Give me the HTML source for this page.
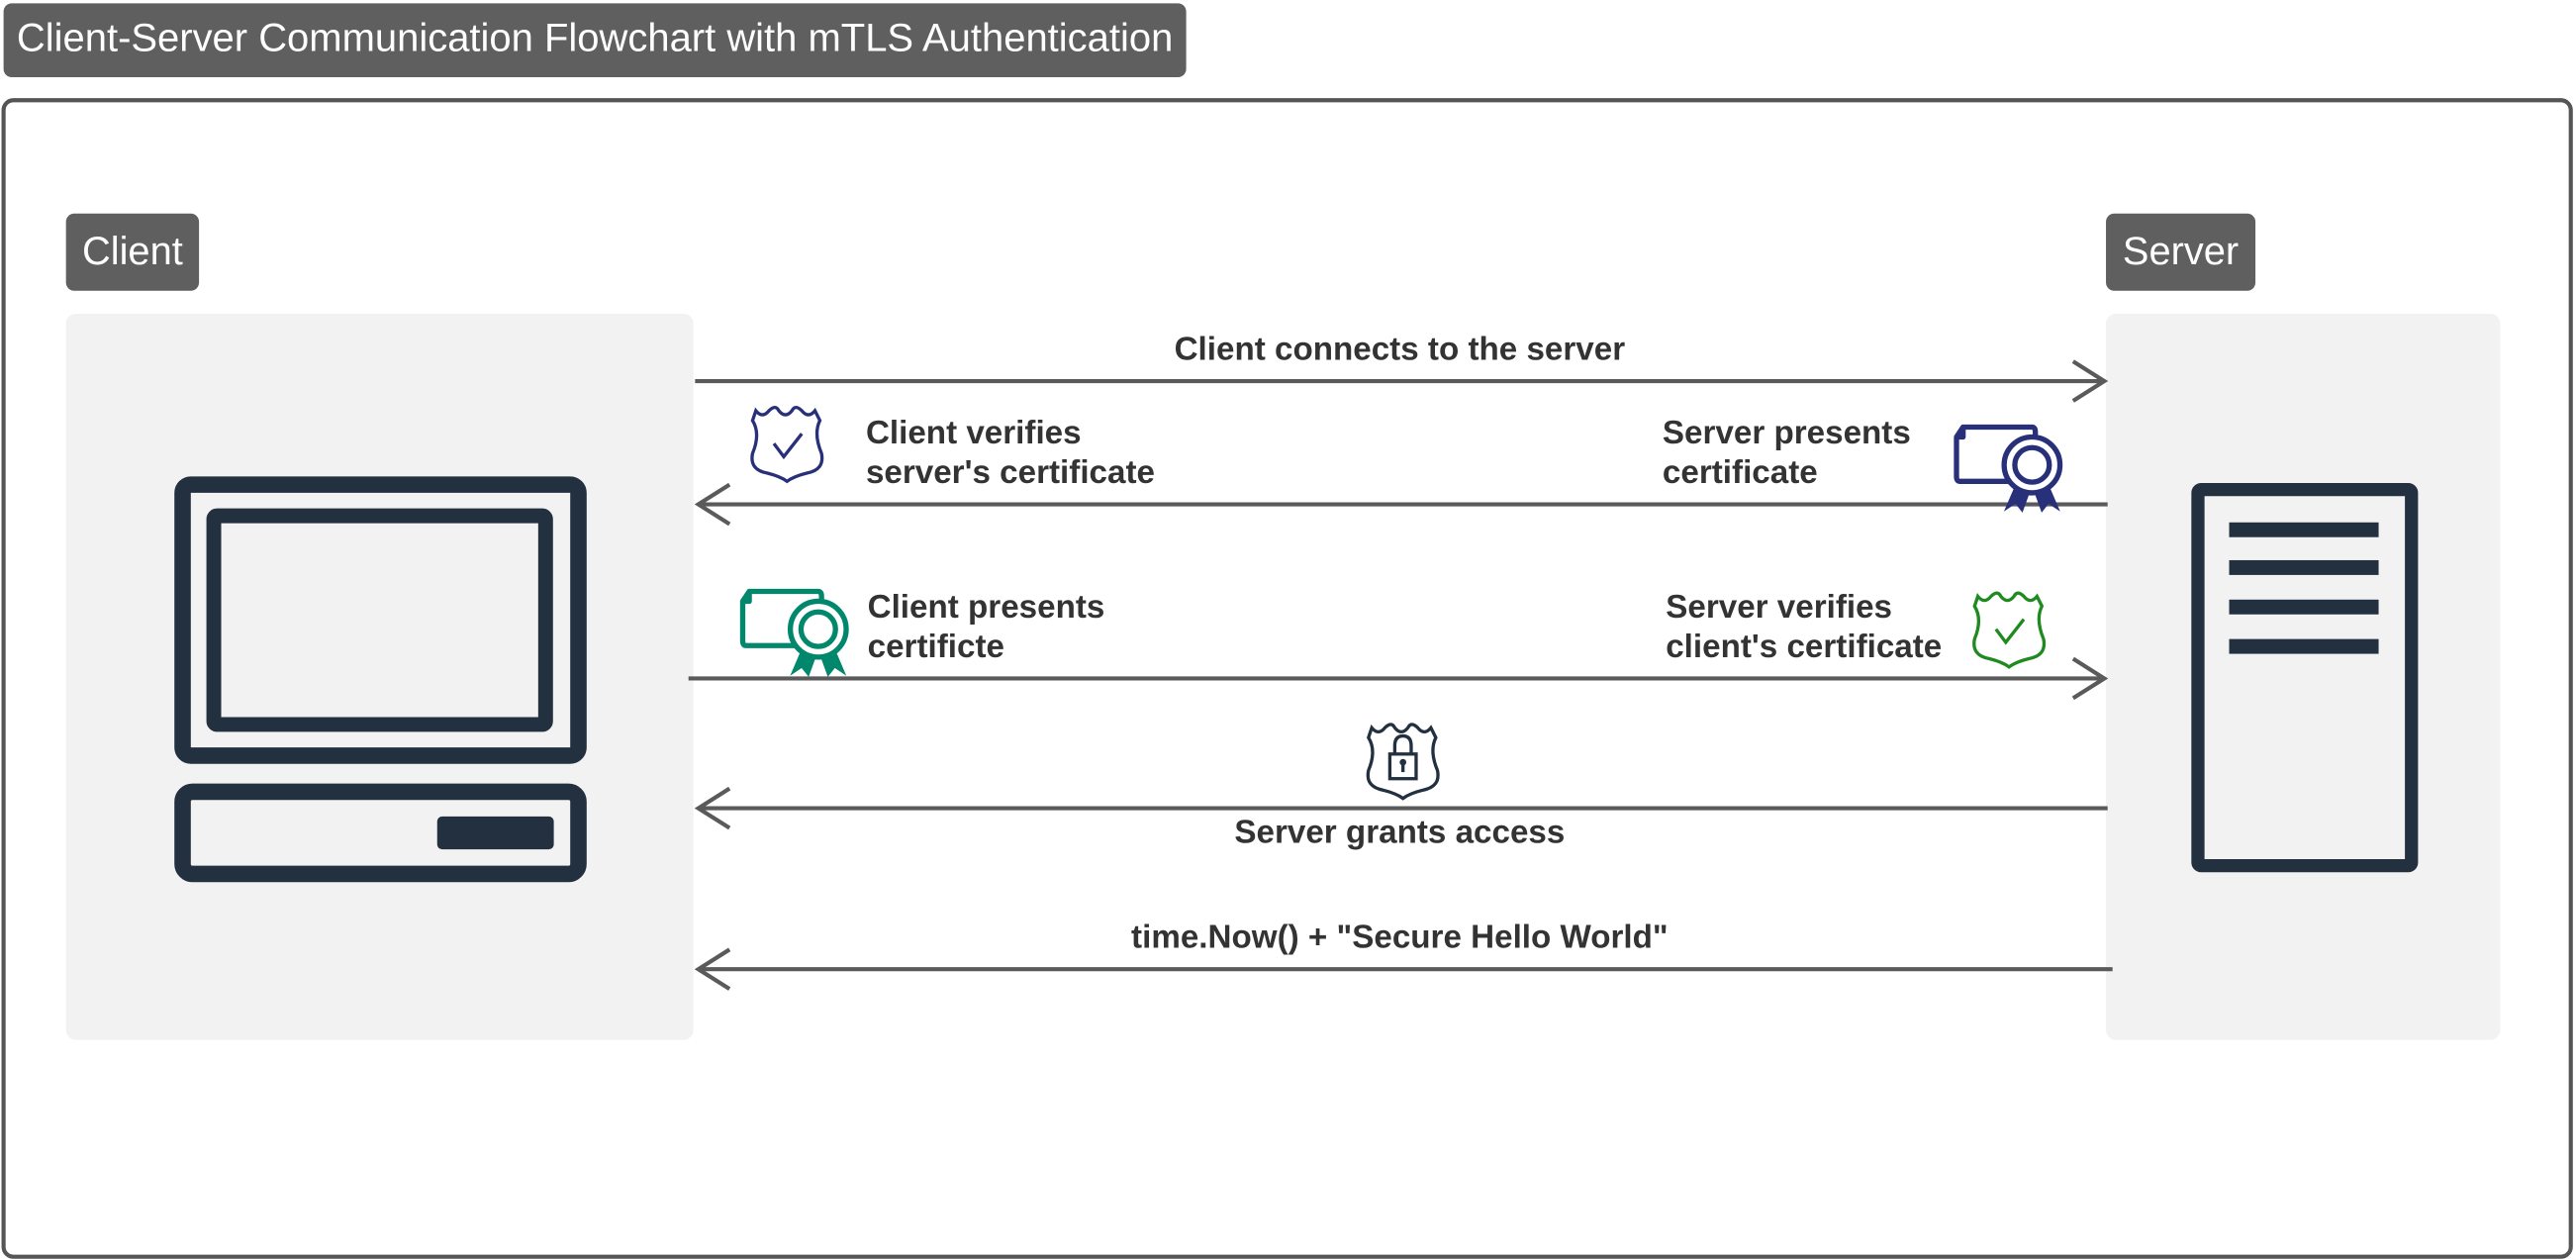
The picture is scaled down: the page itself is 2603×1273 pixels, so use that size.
<!DOCTYPE html>
<html><head><meta charset="utf-8"><style>
html,body{margin:0;padding:0;background:#fff;}
svg{display:block;}
text{font-family:"Liberation Sans",sans-serif;}
</style></head><body>
<svg width="2603" height="1273" viewBox="0 0 1568 767" xmlns="http://www.w3.org/2000/svg">
<defs>
<g id="cert">
  <path d="M6 2 H48 Q50 2 50 5 V8 M36 35 H4 Q2 35 2 32 V8 L6 2 V8 H2" fill="none" stroke-width="3.2" stroke-linejoin="round"/>
  <polygon points="38,38 32,52 38,48 42,53 46,42" />
  <polygon points="58,38 64,52 58,48 54,53 50,42" />
  <circle cx="48" cy="25" r="17" fill="#fff" stroke-width="3.2"/>
  <circle cx="48" cy="25" r="10.5" fill="#fff" stroke-width="3.2"/>
</g>
<g id="shield">
  <path d="M5 4 Q9 9 13 4 Q17 0 19 4 Q23 9 27 4 Q29 0 33 4 Q37 9 41 4 L44 10 Q40 18 45 30 Q47 40 36 42 Q28 44 24 47 Q20 44 12 42 Q1 40 3 30 Q8 18 3 10 Z" fill="none" stroke-width="2"/>
</g>
</defs>
<rect x="2" y="2" width="720" height="45" rx="5" fill="#5f5f5f"/>
<text x="10" y="31" font-size="24" fill="#fff" textLength="704" lengthAdjust="spacingAndGlyphs">Client-Server Communication Flowchart with mTLS Authentication</text>
<rect x="2" y="61" width="1563" height="704" rx="6" fill="none" stroke="#555" stroke-width="2.5"/>

<rect x="40" y="130" width="81" height="47" rx="5" fill="#5f5f5f"/>
<text x="80.5" y="161" font-size="24" fill="#fff" text-anchor="middle">Client</text>
<rect x="1282" y="130" width="91" height="47" rx="5" fill="#5f5f5f"/>
<text x="1327.5" y="161" font-size="24" fill="#fff" text-anchor="middle">Server</text>

<rect x="40" y="191" width="382" height="442" rx="6" fill="#f2f2f2"/>
<rect x="1282" y="191" width="240" height="442" rx="6" fill="#f2f2f2"/>

<g fill="none" stroke="#233040" stroke-width="10">
<rect x="111" y="295" width="241" height="165" rx="5"/>
<rect x="130" y="314" width="202" height="127" rx="2" stroke-width="9"/>
<rect x="111" y="482" width="241" height="50" rx="6"/>
</g>
<rect x="266" y="497" width="71" height="20" rx="3" fill="#233040"/>

<rect x="1338" y="298" width="130" height="229" rx="2" fill="none" stroke="#233040" stroke-width="8"/>
<g fill="#233040">
<rect x="1357" y="318" width="91" height="9"/>
<rect x="1357" y="341" width="91" height="9"/>
<rect x="1357" y="365" width="91" height="9"/>
<rect x="1357" y="389" width="91" height="9"/>
</g>

<g stroke="#5a5a5a" stroke-width="2.5" fill="none">
<line x1="423" y1="232" x2="1281" y2="232"/><polyline points="1262,220 1281,232 1262,244"/>
<line x1="1283" y1="307" x2="425" y2="307"/><polyline points="444,295 425,307 444,319"/>
<line x1="419" y1="413" x2="1281" y2="413"/><polyline points="1262,401 1281,413 1262,425"/>
<line x1="1283" y1="492" x2="425" y2="492"/><polyline points="444,480 425,492 444,504"/>
<line x1="1286" y1="590" x2="425" y2="590"/><polyline points="444,578 425,590 444,602"/>
</g>

<g font-size="20" font-weight="bold" fill="#333">
<text x="852" y="219" text-anchor="middle">Client connects to the server</text>
<text x="527" y="270">Client verifies</text>
<text x="527" y="294">server's certificate</text>
<text x="1012" y="270">Server presents</text>
<text x="1012" y="294">certificate</text>
<text x="528" y="376">Client presents</text>
<text x="528" y="400">certificte</text>
<text x="1014" y="376">Server verifies</text>
<text x="1014" y="400">client's certificate</text>
<text x="852" y="513" text-anchor="middle">Server grants access</text>
<text x="852" y="577" text-anchor="middle">time.Now() + "Secure Hello World"</text>
</g>

<g transform="translate(455,246)" stroke="#29307a"><use href="#shield"/><polyline points="16,24 22,32 33,18" fill="none" stroke-width="2"/></g>
<g transform="translate(1199,359)" stroke="#1f8a1f"><use href="#shield"/><polyline points="16,24 22,32 33,18" fill="none" stroke-width="2"/></g>
<g transform="translate(830,439)" stroke="#233040"><use href="#shield"/>
  <rect x="16" y="20" width="16" height="15" fill="none" stroke-width="2"/>
  <path d="M19 20 V15 Q19 9 24 9 Q29 9 29 15 V20" fill="none" stroke-width="2"/>
  <circle cx="24" cy="25" r="2" fill="#233040" stroke="none"/><line x1="24" y1="26" x2="24" y2="31" stroke-width="2"/>
</g>
<g transform="translate(1189,258)" stroke="#29307a" fill="#29307a"><use href="#cert"/></g>
<g transform="translate(450,358)" stroke="#00876c" fill="#00876c"><use href="#cert"/></g>
</svg>
</body></html>
